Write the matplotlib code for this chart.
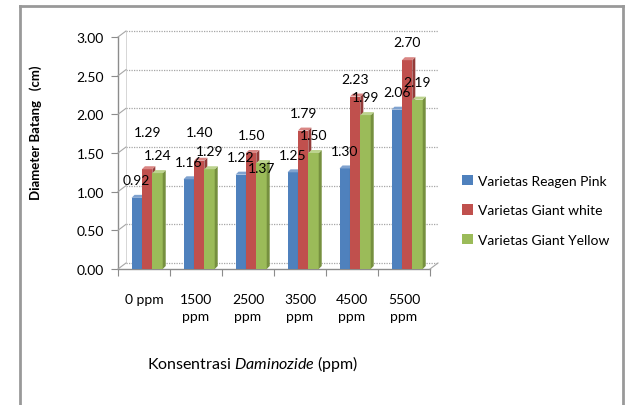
import matplotlib
matplotlib.use("Agg")
import matplotlib.pyplot as plt
from matplotlib.patches import Polygon, Patch
from matplotlib.lines import Line2D
from matplotlib.transforms import ScaledTranslation
import numpy as np

categories = ["0 ppm", "1500\nppm", "2500\nppm", "3500\nppm", "4500\nppm", "5500\nppm"]
series_names = ["Varietas Reagen Pink", "Varietas Giant white", "Varietas Giant Yellow"]
reagen_pink = [0.92, 1.16, 1.22, 1.25, 1.30, 2.06]
giant_white = [1.29, 1.40, 1.50, 1.79, 2.23, 2.70]
giant_yellow = [1.24, 1.29, 1.37, 1.50, 1.99, 2.19]
y_ticks = [0.0, 0.5, 1.0, 1.5, 2.0, 2.5, 3.0]

series = [reagen_pink, giant_white, giant_yellow]
front_cols = ["#4F81BD", "#C0504D", "#9BBB59"]
side_cols = ["#3A6193", "#933B39", "#76903F"]
top_cols = ["#7FA2CF", "#D98684", "#BCD38E"]

FONT = "Lato"
plt.rcParams["mathtext.fontset"] = "custom"
plt.rcParams["mathtext.it"] = "Lato:italic"
plt.rcParams["mathtext.rm"] = "Lato"

W, H, DPI = 627, 406, 100
fig = plt.figure(figsize=(W / DPI, H / DPI), dpi=DPI)
fig.patch.set_facecolor("white")

# axes in pixel geometry
L, R, B, T = 118, 430, 270, 38
ax = fig.add_axes([L / W, 1 - B / H, (R - L) / W, (B - T) / H])
ax.set_xlim(0, 6)
ax.set_ylim(0, 3)
ax.patch.set_alpha(0)
for s in ax.spines.values():
    s.set_visible(False)

# back wall offset (pixels)
ox, oy = 8, 6
off = ScaledTranslation(ox / DPI, oy / DPI, fig.dpi_scale_trans)
for yv in y_ticks:
    ax.plot([0, 6], [yv, yv], transform=ax.transData + off, color="#A6A6A6",
            lw=0.9, ls=(0, (1, 1)), clip_on=False, zorder=0)
for yv in y_ticks:
    p0 = ax.transData.transform((0, yv))
    p1 = p0 + np.array([ox, oy])
    fig.add_artist(Line2D([p0[0] / W, p1[0] / W], [p0[1] / H, p1[1] / H],
                          color="#A6A6A6", lw=0.8))
p0 = ax.transData.transform((6, 0))
fig.add_artist(Line2D([p0[0] / W, (p0[0] + ox) / W], [p0[1] / H, (p0[1] + oy) / H],
                      color="#A6A6A6", lw=0.8))
ax.plot([0, 0], [0, 3], transform=ax.transData + off, color="#D0D0D0", lw=0.6,
        clip_on=False, zorder=0)

# front axis lines
ax.plot([0, 0], [0, 3], color="#8C8C8C", lw=1.0, clip_on=False, zorder=1)
ax.plot([0, 6], [0, 0], color="#8C8C8C", lw=1.0, clip_on=False, zorder=1)

# bars with 3D faces
px_x = 6 / (R - L)
px_y = 3 / (B - T)
dx, dy = 3 * px_x, 3 * px_y
bw = 0.2
offsets = [0.36, 0.56, 0.76]
for si, vals in enumerate(series):
    xs = np.arange(len(vals)) + offsets[si]
    ax.bar(xs, vals, width=bw, color=front_cols[si], zorder=3, linewidth=0)
    for x, v in zip(xs, vals):
        x0, x1 = x - bw / 2, x + bw / 2
        ax.add_patch(Polygon([(x1, 0), (x1 + dx, dy), (x1 + dx, v + dy), (x1, v)],
                             closed=True, facecolor=side_cols[si], lw=0, zorder=3))
        ax.add_patch(Polygon([(x0, v), (x0 + dx, v + dy), (x1 + dx, v + dy), (x1, v)],
                             closed=True, facecolor=top_cols[si], lw=0, zorder=3))

# data labels
label_shift = {(1, 0): 0.48, (1, 1): 0.37, (2, 2): -0.06}
for si, vals in enumerate(series):
    for ci, v in enumerate(vals):
        sh = label_shift.get((si, ci), 0.23)
        ax.text(ci + offsets[si], v + sh, f"{v:.2f}", ha="center", va="center",
                fontsize=10, family=FONT, color="#000000", zorder=5)

# ticks
ax.set_yticks(y_ticks)
ax.set_yticklabels([f"{v:.2f}" for v in y_ticks], fontsize=10, family=FONT)
ax.set_xticks(np.arange(7))
ax.set_xticklabels([])
ax.set_xticks(np.arange(6) + 0.5, minor=True)
ax.set_xticklabels(categories, minor=True, fontsize=10, family=FONT,
                   linespacing=1.5)
ax.tick_params(axis="y", length=5, color="#8C8C8C", pad=5)
ax.tick_params(axis="x", which="major", length=5, color="#8C8C8C")
ax.tick_params(axis="x", which="minor", length=0, pad=17)

# axis titles
fig.text(253 / W, 1 - 364 / H, "Konsentrasi $\\mathit{Daminozide}$ (ppm)",
         ha="center", va="center", fontsize=11.5, family=FONT)
fig.text(36 / W, 1 - 133 / H, "Diameter Batang   (cm)", rotation=90,
         ha="center", va="center", fontsize=9.5, family=FONT, fontweight="bold")

# legend
handles = [Patch(facecolor=c, edgecolor="none") for c in front_cols]
fig.legend(handles, series_names, loc="upper left",
           bbox_to_anchor=(456 / W, 1 - 170 / H), frameon=False,
           prop={"family": FONT, "size": 10}, handlelength=0.8, handleheight=0.8,
           handletextpad=0.4, labelspacing=1.25, borderaxespad=0)

# outer frame
fc = "#999999"
fig.add_artist(Line2D([20 / W, 20 / W], [0, 1 - 7 / H], color=fc, lw=2))
fig.add_artist(Line2D([20 / W, 623 / W], [1 - 7 / H, 1 - 7 / H], color=fc, lw=2))
fig.add_artist(Line2D([623 / W, 623 / W], [0, 1 - 7 / H], color=fc, lw=2))

fig.savefig("out.png", dpi=DPI)
